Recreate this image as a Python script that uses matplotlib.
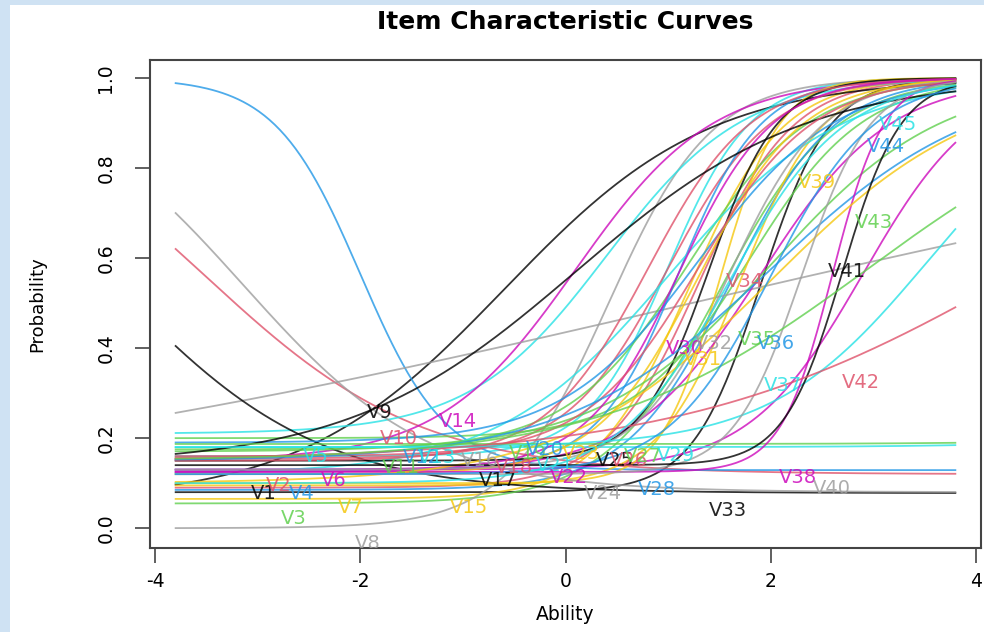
import numpy as np
import matplotlib.pyplot as plt
from matplotlib.patches import Rectangle

plt.rcParams['font.family'] = ['DejaVu Sans']
plt.rcParams['axes.unicode_minus'] = False

# item names and palette (R 4 default palette, recycled)
items = ["V%d" % i for i in range(1, 46)]
palette = ["#000000", "#DF536B", "#61D04F", "#2297E6",
           "#28E2E5", "#CD0BBC", "#F5C710", "#9E9E9E"]

# item parameters: slope, location, lower and upper asymptote
slope = [3.0, 2.2, 1.8, 2.0, 2.5, 1.8, 2.2, 2.0, 1.0, -0.95,
         1.8, -2.4, 1.5, 1.5, 2.5, 0.212, -1.0, 2.0, 1.7, 2.5,
         1.2, 1.6, 3.5, -1.1, 3.0, 2.0, 1.2, 1.5, 1.0, 2.2,
         2.0, 2.2, 0.9, 1.8, 1.0, 1.0, 1.31, 4.0, 1.0, 3.0,
         3.5, 0.6, 0.78, 2.0, 1.8]
location = [1.9, 1.3, 1.5, 1.6, 1.0, 2.9, 1.2, 0.42, -0.6, -3.51,
            1.8, -2.0, 0.4, 0.1, 1.7, 1.23, -4.4, 1.0, 1.2, 1.1,
            1.0, 1.9, 1.5, -3.14, 1.4, 0.8, 2.0, 1.3, 9.0, 1.1,
            1.3, 1.6, 0.1, 1.3, 9.5, 2.0, 3.52, 2.6, 2.0, 2.3,
            2.7, 4.47, 2.94, 2.0, 1.6]
lower = [0.08, 0.09, 0.055, 0.085, 0.16, 0.13, 0.065, 0.0, 0.06, 0.12,
         0.2, 0.129, 0.21, 0.15, 0.095, 0.0, 0.078, 0.155, 0.175, 0.13,
         0.12, 0.125, 0.10, 0.08, 0.15, 0.15, 0.17, 0.19, 0.18, 0.13,
         0.12, 0.13, 0.14, 0.16, 0.187, 0.15, 0.18, 0.125, 0.10, 0.12,
         0.14, 0.15, 0.15, 0.12, 0.10]
upper = [1.0] * 45

# label anchor points
label_x = [-2.94, -2.80, -2.65, -2.57, -2.43, -2.26, -2.09, -1.93, -1.81, -1.62,
           -1.60, -1.40, -1.25, -1.05, -0.94, -0.83, -0.66, -0.50, -0.37, -0.20,
           -0.10, 0.03, 0.15, 0.36, 0.48, 0.62, 0.75, 0.89, 1.08, 1.16,
           1.34, 1.45, 1.58, 1.75, 1.87, 2.05, 2.12, 2.27, 2.45, 2.60,
           2.74, 2.88, 3.01, 3.12, 3.24]
label_y = [0.078, 0.095, 0.022, 0.078, 0.160, 0.107, 0.047, -0.035, 0.256, 0.200,
           0.135, 0.158, 0.158, 0.238, 0.047, 0.150, 0.105, 0.135, 0.165, 0.175,
           0.140, 0.113, 0.165, 0.076, 0.151, 0.150, 0.160, 0.087, 0.162, 0.400,
           0.375, 0.410, 0.040, 0.547, 0.420, 0.410, 0.316, 0.113, 0.769, 0.089,
           0.571, 0.324, 0.678, 0.847, 0.896]

ability = np.linspace(-3.8, 3.8, 300)

fig = plt.figure(figsize=(9.84, 6.32), dpi=100, facecolor="#CFE2F3")
fig.patches.append(Rectangle((10 / 984, 0), 1, 1 - 5 / 632, transform=fig.transFigure,
                             facecolor="white", edgecolor="none", zorder=-5))
ax = fig.add_axes([150 / 984, 84 / 632, 831 / 984, 488 / 632])
ax.set_zorder(2)

for i in range(45):
    p = lower[i] + (upper[i] - lower[i]) / (1 + np.exp(-slope[i] * (ability - location[i])))
    ax.plot(ability, p, color=palette[i % 8], lw=1.3, alpha=0.8)

for i in range(45):
    ax.text(label_x[i], label_y[i], items[i], color=palette[i % 8], alpha=0.85,
            fontsize=14, ha="center", va="center", clip_on=True)

ax.set_xlim(-4.05, 4.05)
ax.set_ylim(-0.044, 1.04)
ax.set_xticks([-4, -2, 0, 2, 4])
ax.set_yticks([0.0, 0.2, 0.4, 0.6, 0.8, 1.0])
ax.set_yticklabels(["0.0", "0.2", "0.4", "0.6", "0.8", "1.0"], rotation=90, va="center")
ax.tick_params(labelsize=13.5, length=11, width=1.2, color="#444444")
ax.tick_params(axis="x", pad=6)
ax.tick_params(axis="y", pad=14)
for s in ax.spines.values():
    s.set_color("#444444")
    s.set_linewidth(1.5)

ax.set_title("Item Characteristic Curves", fontsize=18, fontweight="bold", pad=22)
ax.set_xlabel("Ability", fontsize=13.5, labelpad=10)
ax.set_ylabel("Probability", fontsize=13, labelpad=36)

plt.savefig("out.png", dpi=100)
